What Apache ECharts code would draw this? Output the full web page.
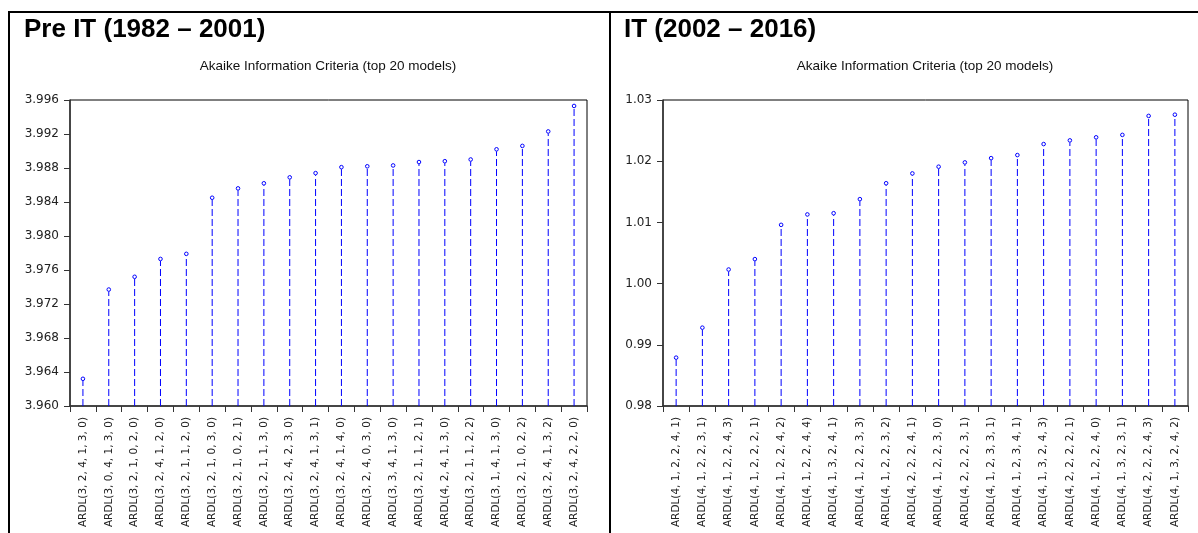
<!DOCTYPE html>
<html>
<head>
<meta charset="utf-8">
<style>
  html, body { margin: 0; padding: 0; background: #fff; }
  #chart { width: 1198px; height: 533px; }
</style>
<script src="https://cdn.jsdelivr.net/npm/echarts@6/dist/echarts.min.js"></script>
</head>
<body>
<div id="chart"></div>
<script>
// Panel headings
const panelTitles = ['Pre IT (1982 \u2013 2001)', 'IT (2002 \u2013 2016)'];
const chartSubtitle = 'Akaike Information Criteria (top 20 models)';

// Pre IT period: model specifications and their AIC values
const preModels = [
  'ARDL(3, 2, 4, 1, 3, 0)', 'ARDL(3, 0, 4, 1, 3, 0)', 'ARDL(3, 2, 1, 0, 2, 0)',
  'ARDL(3, 2, 4, 1, 2, 0)', 'ARDL(3, 2, 1, 1, 2, 0)', 'ARDL(3, 2, 1, 0, 3, 0)',
  'ARDL(3, 2, 1, 0, 2, 1)', 'ARDL(3, 2, 1, 1, 3, 0)', 'ARDL(3, 2, 4, 2, 3, 0)',
  'ARDL(3, 2, 4, 1, 3, 1)', 'ARDL(3, 2, 4, 1, 4, 0)', 'ARDL(3, 2, 4, 0, 3, 0)',
  'ARDL(3, 3, 4, 1, 3, 0)', 'ARDL(3, 2, 1, 1, 2, 1)', 'ARDL(4, 2, 4, 1, 3, 0)',
  'ARDL(3, 2, 1, 1, 2, 2)', 'ARDL(3, 1, 4, 1, 3, 0)', 'ARDL(3, 2, 1, 0, 2, 2)',
  'ARDL(3, 2, 4, 1, 3, 2)', 'ARDL(3, 2, 4, 2, 2, 0)'
];
const preAic = [
  3.9632, 3.9737, 3.9752, 3.9773, 3.9779, 3.9845, 3.9856, 3.9862, 3.9869, 3.9874,
  3.9881, 3.9882, 3.9883, 3.9887, 3.9888, 3.9890, 3.9902, 3.9906, 3.9923, 3.9953
];
const preAxis = { min: 3.960, max: 3.996, step: 0.004, digits: 3 };

// IT period: model specifications and their AIC values
const itModels = [
  'ARDL(4, 1, 2, 2, 4, 1)', 'ARDL(4, 1, 2, 2, 3, 1)', 'ARDL(4, 1, 2, 2, 4, 3)',
  'ARDL(4, 1, 2, 2, 2, 1)', 'ARDL(4, 1, 2, 2, 4, 2)', 'ARDL(4, 1, 2, 2, 4, 4)',
  'ARDL(4, 1, 3, 2, 4, 1)', 'ARDL(4, 1, 2, 2, 3, 3)', 'ARDL(4, 1, 2, 2, 3, 2)',
  'ARDL(4, 2, 2, 2, 4, 1)', 'ARDL(4, 1, 2, 2, 3, 0)', 'ARDL(4, 2, 2, 2, 3, 1)',
  'ARDL(4, 1, 2, 3, 3, 1)', 'ARDL(4, 1, 2, 3, 4, 1)', 'ARDL(4, 1, 3, 2, 4, 3)',
  'ARDL(4, 2, 2, 2, 2, 1)', 'ARDL(4, 1, 2, 2, 4, 0)', 'ARDL(4, 1, 3, 2, 3, 1)',
  'ARDL(4, 2, 2, 2, 4, 3)', 'ARDL(4, 1, 3, 2, 4, 2)'
];
const itAic = [
  0.9879, 0.9928, 1.0023, 1.0040, 1.0096, 1.0113, 1.0115, 1.0138, 1.0164, 1.0180,
  1.0191, 1.0198, 1.0205, 1.0210, 1.0228, 1.0234, 1.0239, 1.0243, 1.0274, 1.0276
];
const itAxis = { min: 0.98, max: 1.03, step: 0.01, digits: 2 };

const STEM = '#0000ff';
const AXIS_FONT = 'DejaVu Sans';

// Dashed stem from the axis floor up to each value, capped by a small hollow circle
function stemRenderer(floor) {
  return function (params, api) {
    const idx = api.value(0);
    const top = api.coord([idx, api.value(1)]);
    const base = api.coord([idx, floor]);
    return {
      type: 'group',
      children: [
        {
          type: 'line',
          shape: { x1: base[0], y1: base[1], x2: top[0], y2: top[1] + 2 },
          style: { stroke: STEM, lineWidth: 1, lineDash: [7, 3] }
        },
        {
          type: 'circle',
          shape: { cx: top[0], cy: top[1], r: 1.8 },
          style: { fill: '#fff', stroke: STEM, lineWidth: 1 }
        }
      ]
    };
  };
}

function makeX(gridIndex, cats) {
  return {
    type: 'category', gridIndex: gridIndex, data: cats, boundaryGap: true,
    axisLine: { show: true, lineStyle: { color: '#333', width: 1.5 } },
    axisTick: { show: true, interval: 0, length: 6, lineStyle: { color: '#333' } },
    axisLabel: {
      interval: 0, rotate: 90, margin: 11,
      fontFamily: AXIS_FONT, fontSize: 10.5, color: '#222'
    },
    splitLine: { show: false }
  };
}

function makeY(gridIndex, ax) {
  return {
    type: 'value', gridIndex: gridIndex,
    min: ax.min, max: ax.max, interval: ax.step,
    axisLine: { show: true, lineStyle: { color: '#333', width: 1.5 } },
    axisTick: { show: true, length: 6, lineStyle: { color: '#333' } },
    axisLabel: {
      margin: 11, fontFamily: AXIS_FONT, fontSize: 12, color: '#222',
      formatter: function (v) { return v.toFixed(ax.digits); }
    },
    splitLine: { show: false }
  };
}

const headingStyle = { fontFamily: 'Liberation Sans', fontWeight: 'bold', fontSize: 26, color: '#000' };
const subStyle = { fontFamily: 'Liberation Sans', fontWeight: 'normal', fontSize: 13.5, color: '#111' };

const chart = echarts.init(document.getElementById('chart'), null, { renderer: 'canvas' });

chart.setOption({
  backgroundColor: '#fff',
  animation: false,
  title: [
    { text: panelTitles[0], left: 24, top: 17, padding: 0, textStyle: headingStyle },
    { text: panelTitles[1], left: 624, top: 17, padding: 0, textStyle: headingStyle },
    { text: chartSubtitle, left: 328, top: 59, padding: 0, textAlign: 'center', textStyle: subStyle },
    { text: chartSubtitle, left: 925, top: 59, padding: 0, textAlign: 'center', textStyle: subStyle }
  ],
  grid: [
    { left: 70, top: 100, right: 611, bottom: 127, show: true, borderColor: '#000', borderWidth: 1, backgroundColor: '#fff' },
    { left: 663, top: 100, right: 10, bottom: 127, show: true, borderColor: '#000', borderWidth: 1, backgroundColor: '#fff' }
  ],
  xAxis: [makeX(0, preModels), makeX(1, itModels)],
  yAxis: [makeY(0, preAxis), makeY(1, itAxis)],
  series: [
    {
      type: 'custom', xAxisIndex: 0, yAxisIndex: 0,
      renderItem: stemRenderer(preAxis.min),
      data: preAic.map(function (v, i) { return [i, v]; }),
      clip: true
    },
    {
      type: 'custom', xAxisIndex: 1, yAxisIndex: 1,
      renderItem: stemRenderer(itAxis.min),
      data: itAic.map(function (v, i) { return [i, v]; }),
      clip: true
    }
  ],
  // Panel frame: top rule, left rule and the divider between periods
  graphic: [
    { type: 'line', shape: { x1: 8, y1: 12, x2: 1198, y2: 12 }, style: { stroke: '#000', lineWidth: 2 } },
    { type: 'line', shape: { x1: 9, y1: 11, x2: 9, y2: 533 }, style: { stroke: '#000', lineWidth: 2 } },
    { type: 'line', shape: { x1: 610, y1: 11, x2: 610, y2: 533 }, style: { stroke: '#000', lineWidth: 2 } }
  ]
});
</script>
</body>
</html>
